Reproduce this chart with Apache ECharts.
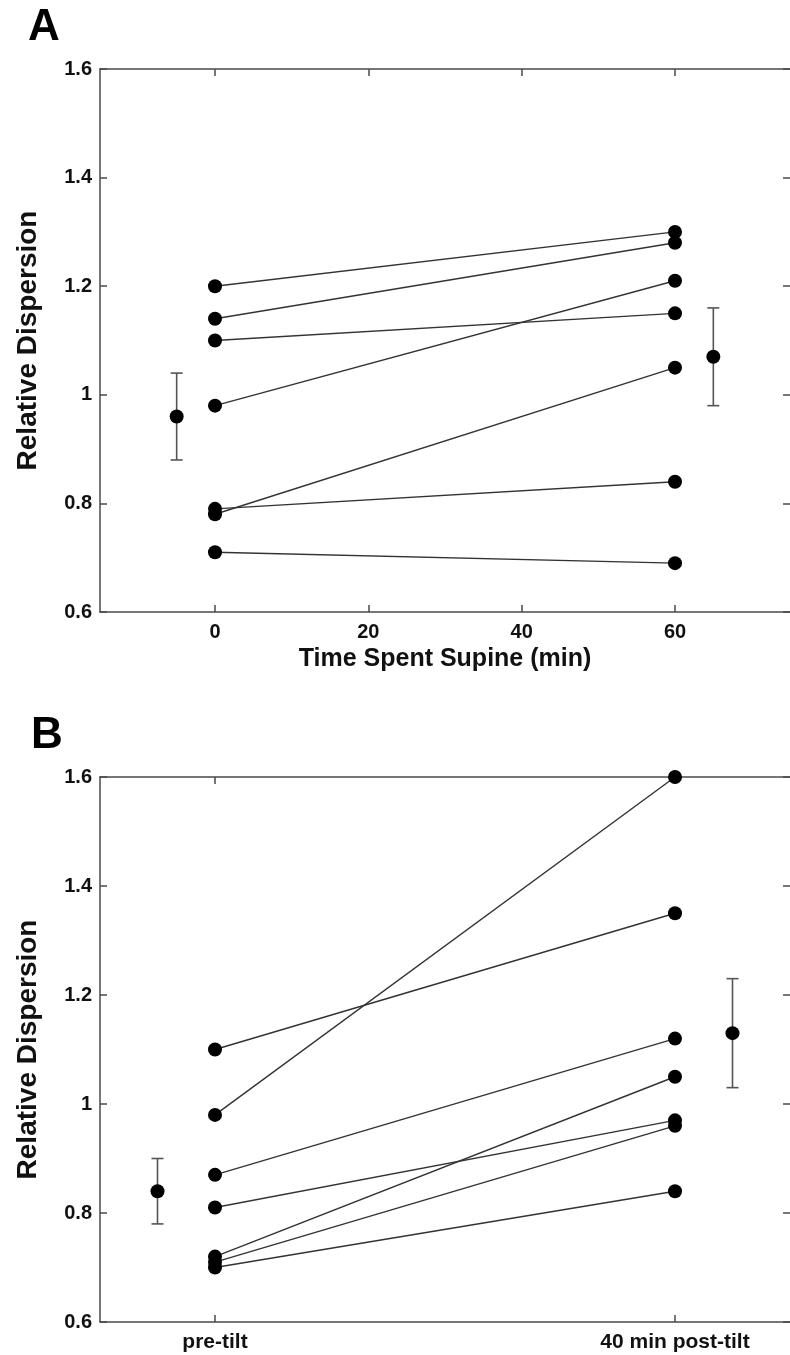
<!DOCTYPE html>
<html>
<head>
<meta charset="utf-8">
<script src="https://cdn.jsdelivr.net/npm/echarts@6/dist/echarts.min.js"></script>
<style>
  html, body { margin: 0; padding: 0; background: #fff; }
  #chart { width: 790px; height: 1355px; }
</style>
</head>
<body>
<div id="chart"></div>
<script>
  const font = '"Liberation Sans", Arial, sans-serif'

  // panel A: time spent supine
  const timesA = [0, 60]
  const tickValuesA = [0, 20, 40, 60]
  const preA = [1.20, 1.14, 1.10, 0.98, 0.79, 0.78, 0.71]
  const postA = [1.30, 1.28, 1.15, 1.21, 0.84, 1.05, 0.69]
  const meanXA = [-5, 65]
  const meanA = [0.96, 1.07]
  const lowA = [0.88, 0.98]
  const highA = [1.04, 1.16]

  // panel B: tilt
  const timesB = [0, 60]
  const tickLabelsB = ['pre-tilt', '40 min post-tilt']
  const preB = [1.10, 0.98, 0.87, 0.81, 0.72, 0.71, 0.70]
  const postB = [1.35, 1.60, 1.12, 0.97, 1.05, 0.96, 0.84]
  const meanXB = [-7.5, 67.5]
  const meanB = [0.84, 1.13]
  const lowB = [0.78, 1.03]
  const highB = [0.90, 1.23]

  const yTicks = { min: 0.6, max: 1.6, interval: 0.2 }
  const axisColor = '#4a4a4a'

  function xAxes (grid, ticks, formatter) {
    return [
      {
        gridIndex: grid,
        type: 'value',
        position: 'bottom',
        min: -15,
        max: 75,
        axisLine: { onZero: false, lineStyle: { color: axisColor, width: 1.5 } },
        axisTick: { inside: true, length: 7, customValues: ticks, lineStyle: { color: axisColor, width: 1.5 } },
        axisLabel: {
          customValues: ticks,
          formatter,
          margin: 10,
          color: '#111',
          fontFamily: font,
          fontWeight: 'bold',
          fontSize: formatter ? 21 : 20
        },
        splitLine: { show: false }
      },
      {
        gridIndex: grid,
        type: 'value',
        position: 'top',
        min: -15,
        max: 75,
        axisLine: { onZero: false, lineStyle: { color: axisColor, width: 1.5 } },
        axisTick: { inside: true, length: 7, customValues: ticks, lineStyle: { color: axisColor, width: 1.5 } },
        axisLabel: { show: false },
        splitLine: { show: false }
      }
    ]
  }

  function yAxes (grid) {
    return [
      {
        gridIndex: grid,
        type: 'value',
        position: 'left',
        ...yTicks,
        name: 'Relative Dispersion',
        nameLocation: 'middle',
        nameGap: 58,
        nameTextStyle: { fontFamily: font, fontWeight: 'bold', fontSize: 28, color: '#111' },
        axisLine: { show: true, onZero: false, lineStyle: { color: axisColor, width: 1.5 } },
        axisTick: { show: true, inside: true, length: 7, lineStyle: { color: axisColor, width: 1.5 } },
        axisLabel: { margin: 8, color: '#111', fontFamily: font, fontWeight: 'bold', fontSize: 20 },
        splitLine: { show: false }
      },
      {
        gridIndex: grid,
        type: 'value',
        position: 'right',
        ...yTicks,
        axisLine: { show: false, onZero: false },
        axisTick: { show: true, inside: true, length: 7, lineStyle: { color: axisColor, width: 1.5 } },
        axisLabel: { show: false },
        splitLine: { show: false }
      }
    ]
  }

  function subjectSeries (grid, times, pre, post) {
    return pre.map((v, i) => ({
      type: 'line',
      xAxisIndex: grid * 2,
      yAxisIndex: grid * 2,
      data: [[times[0], v], [times[1], post[i]]],
      symbol: 'circle',
      symbolSize: 14,
      clip: false,
      itemStyle: { color: '#000', opacity: 1 },
      lineStyle: { color: '#333', width: 1.4 },
      emphasis: { disabled: true },
      animation: false
    }))
  }

  function meanSeries (grid, xs, means, lows, highs) {
    return [
      {
        type: 'custom',
        xAxisIndex: grid * 2,
        yAxisIndex: grid * 2,
        data: xs.map((x, i) => [x, lows[i], highs[i]]),
        renderItem: (params, api) => {
          const lo = api.coord([api.value(0), api.value(1)])
          const hi = api.coord([api.value(0), api.value(2)])
          const cap = 6
          const style = { stroke: '#555', lineWidth: 1.6 }
          return {
            type: 'group',
            children: [
              { type: 'line', shape: { x1: lo[0], y1: lo[1], x2: hi[0], y2: hi[1] }, style },
              { type: 'line', shape: { x1: lo[0] - cap, y1: lo[1], x2: lo[0] + cap, y2: lo[1] }, style },
              { type: 'line', shape: { x1: hi[0] - cap, y1: hi[1], x2: hi[0] + cap, y2: hi[1] }, style }
            ]
          }
        },
        animation: false
      },
      {
        type: 'scatter',
        xAxisIndex: grid * 2,
        yAxisIndex: grid * 2,
        data: xs.map((x, i) => [x, means[i]]),
        symbol: 'circle',
        symbolSize: 14,
        itemStyle: { color: '#000', opacity: 1 },
        emphasis: { disabled: true },
        animation: false
      }
    ]
  }

  const chart = echarts.init(document.getElementById('chart'), null, { renderer: 'canvas' })

  const axesA = xAxes(0, tickValuesA)
  axesA[0].name = 'Time Spent Supine (min)'
  axesA[0].nameLocation = 'middle'
  axesA[0].nameGap = 35
  axesA[0].nameTextStyle = { fontFamily: font, fontWeight: 'bold', fontSize: 25, color: '#111' }

  const axesB = xAxes(1, timesB, v => tickLabelsB[timesB.indexOf(v)])

  chart.setOption({
    backgroundColor: '#fff',
    animation: false,
    title: [
      { text: 'A', left: 28, top: 6, padding: 0, textStyle: { fontFamily: font, fontWeight: 'bold', fontSize: 44, color: '#000' } },
      { text: 'B', left: 31, top: 714, padding: 0, textStyle: { fontFamily: font, fontWeight: 'bold', fontSize: 44, color: '#000' } }
    ],
    grid: [
      { left: 100, top: 69, right: 0, height: 543 },
      { left: 100, top: 777, right: 0, height: 545 }
    ],
    xAxis: [...axesA, ...axesB],
    yAxis: [...yAxes(0), ...yAxes(1)],
    series: [
      ...subjectSeries(0, timesA, preA, postA),
      ...meanSeries(0, meanXA, meanA, lowA, highA),
      ...subjectSeries(1, timesB, preB, postB),
      ...meanSeries(1, meanXB, meanB, lowB, highB)
    ]
  })
</script>
</body>
</html>
